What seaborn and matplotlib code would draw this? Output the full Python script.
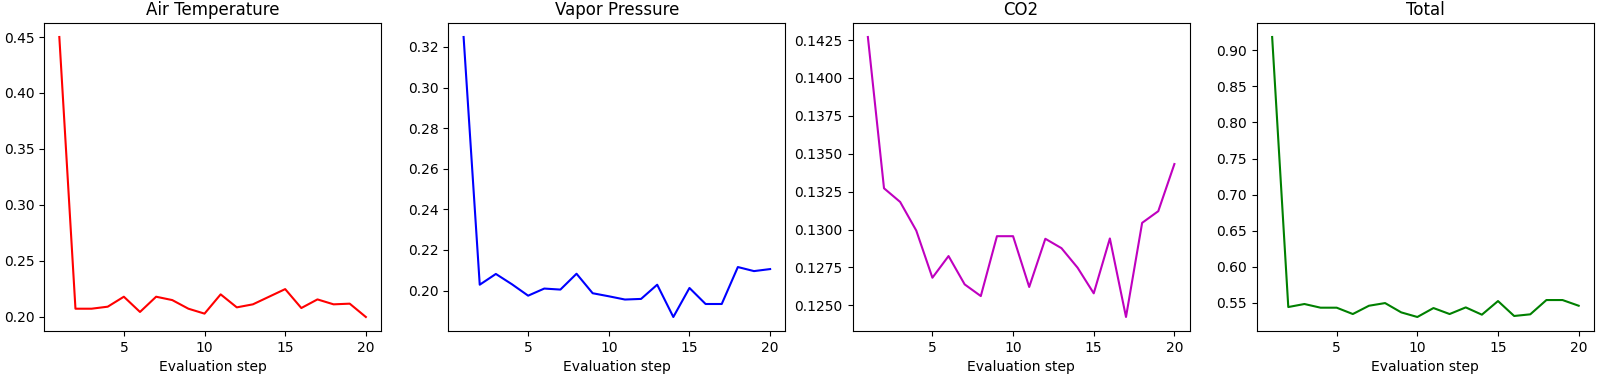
import matplotlib
matplotlib.use("Agg")
import matplotlib.pyplot as plt
import seaborn as sns
import pandas as pd

steps = list(range(1, 21))
air_temperature = [0.450, 0.2074, 0.2074, 0.2092, 0.2181, 0.2045, 0.2181, 0.2151, 0.2074, 0.2030,
                   0.2202, 0.2086, 0.2113, 0.2181, 0.2249, 0.2080, 0.2157, 0.2113, 0.2119, 0.2000]
vapor_pressure = [0.3249, 0.2029, 0.2082, 0.2031, 0.1975, 0.2010, 0.2005, 0.2083, 0.1987, 0.1972,
                  0.1956, 0.1959, 0.2029, 0.1870, 0.2013, 0.1934, 0.1934, 0.2116, 0.2096, 0.2106]
co2 = [0.14270, 0.13272, 0.13182, 0.12993, 0.12682, 0.12825, 0.12638, 0.12561, 0.12956, 0.12956,
       0.12621, 0.12939, 0.12877, 0.12748, 0.12579, 0.12941, 0.12423, 0.13044, 0.13121, 0.13432]
total = [0.9185, 0.5440, 0.5482, 0.5431, 0.5431, 0.5343, 0.5458, 0.5495, 0.5366, 0.5302,
         0.5426, 0.5343, 0.5435, 0.5334, 0.5523, 0.5316, 0.5339, 0.5537, 0.5537, 0.5458]

titles = ["Air Temperature", "Vapor Pressure", "CO2", "Total"]
series = [air_temperature, vapor_pressure, co2, total]
colors = ["r", "b", "m", "g"]

fig, axes = plt.subplots(1, 4, figsize=(16, 3.74), dpi=100)
for ax, title, vals, c in zip(axes, titles, series, colors):
    df = pd.DataFrame({"step": steps, "value": vals})
    sns.lineplot(data=df, x="step", y="value", color=c, ax=ax)
    ax.set_title(title)
    ax.set_xlabel("Evaluation step")
    ax.set_ylabel("")
    ax.set_xticks([5, 10, 15, 20])
fig.subplots_adjust(left=0.0275, right=0.99625, top=0.9385, bottom=0.115, wspace=0.199)
fig.savefig("out.png", dpi=100)
